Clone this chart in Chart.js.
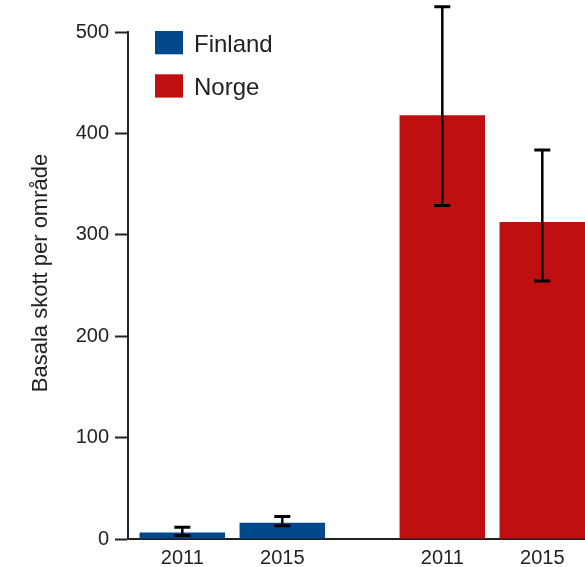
<!DOCTYPE html>
<html>
<head>
<meta charset="utf-8">
<script src="https://cdn.jsdelivr.net/npm/chart.js@4/dist/chart.umd.min.js"></script>
<style>
  html, body { margin: 0; padding: 0; background: #ffffff; }
  #wrap { width: 585px; height: 567px; position: relative; }
</style>
</head>
<body>
<div id="wrap"><canvas id="chart"></canvas></div>
<script>
// Basal shoots per survey area, Finland vs Norway, 2011 and 2015
const years = ['2011', '2015'];
const countries = ['Finland', 'Norge'];
const countryColors = ['#00488a', '#c00f10'];

const finlandValues = [6.5, 16];
const finlandLow = [3.5, 13];
const finlandHigh = [11.5, 22.3];

const norgeValues = [418, 312.6];
const norgeLow = [329, 254.5];
const norgeHigh = [525, 383.6];

const yTicks = [0, 100, 200, 300, 400, 500];

const textColor = '#222222';
const fontFamily = '"Liberation Sans", Arial, Helvetica, sans-serif';

// bars of one country sit next to each other, countries are separated by a wider gap
const groupStep = years.length + 0.6;
const xPos = (g, j) => 1 + g * groupStep + j;

const seriesValues = [finlandValues, norgeValues];
const seriesLow = [finlandLow, norgeLow];
const seriesHigh = [finlandHigh, norgeHigh];

const datasets = countries.map((name, g) => ({
  label: name,
  data: years.map((yr, j) => ({ x: xPos(g, j), y: seriesValues[g][j] })),
  low: seriesLow[g],
  high: seriesHigh[g],
  backgroundColor: countryColors[g],
  borderWidth: 0,
  grouped: false,
  categoryPercentage: 1,
  barPercentage: 0.855
}));

const tickPositions = [];
countries.forEach((c, g) => years.forEach((y, j) => tickPositions.push(xPos(g, j))));

// whiskers for the low/high interval of each bar
const errorBars = {
  id: 'errorBars',
  afterDatasetsDraw(chart) {
    const { ctx, scales: { x, y } } = chart;
    ctx.save();
    ctx.strokeStyle = '#000000';
    chart.data.datasets.forEach(ds => {
      ds.data.forEach((pt, i) => {
        const px = x.getPixelForValue(pt.x);
        const yl = y.getPixelForValue(ds.low[i]);
        const yh = y.getPixelForValue(ds.high[i]);
        const cap = 8;
        ctx.lineWidth = 2.5;
        ctx.beginPath();
        ctx.moveTo(px, yl);
        ctx.lineTo(px, yh);
        ctx.stroke();
        ctx.lineWidth = 3;
        ctx.beginPath();
        ctx.moveTo(px - cap, yl);
        ctx.lineTo(px + cap, yl);
        ctx.moveTo(px - cap, yh);
        ctx.lineTo(px + cap, yh);
        ctx.stroke();
      });
    });
    ctx.restore();
  }
};

// legend boxes inside the plot, stacked vertically
const insideLegend = {
  id: 'insideLegend',
  afterDraw(chart) {
    const { ctx, chartArea } = chart;
    const x0 = chartArea.left + 27;
    const y0 = chartArea.top - 1;
    const step = 43.3;
    ctx.save();
    ctx.font = '24px ' + fontFamily;
    ctx.textBaseline = 'middle';
    ctx.textAlign = 'left';
    chart.data.datasets.forEach((ds, i) => {
      const top = y0 + i * step;
      ctx.fillStyle = ds.backgroundColor;
      ctx.fillRect(x0, top, 28, 23.3);
      ctx.fillStyle = textColor;
      ctx.fillText(ds.label, x0 + 39, top + 14);
    });
    ctx.restore();
  }
};

// rotated y-axis title
const yTitle = {
  id: 'yTitle',
  afterDraw(chart) {
    const { ctx } = chart;
    ctx.save();
    ctx.translate(41, 273);
    ctx.rotate(-Math.PI / 2);
    ctx.font = '22px ' + fontFamily;
    ctx.fillStyle = textColor;
    ctx.textAlign = 'center';
    ctx.textBaseline = 'middle';
    ctx.fillText('Basala skott per område', 0, 0);
    ctx.restore();
  }
};

new Chart(document.getElementById('chart'), {
  type: 'bar',
  data: { datasets },
  options: {
    responsive: true,
    maintainAspectRatio: false,
    animation: false,
    layout: { padding: { top: 32, left: 0, right: 0, bottom: 0 } },
    plugins: {
      legend: { display: false },
      tooltip: { enabled: false }
    },
    scales: {
      x: {
        type: 'linear',
        offset: false,
        min: 0.457,
        max: 5.027,
        afterBuildTicks: scale => { scale.ticks = tickPositions.map(v => ({ value: v })); },
        afterFit: scale => { scale.height = 28; },
        grid: { display: false, offset: false },
        border: { display: true, color: textColor, width: 2 },
        ticks: {
          autoSkip: false,
          maxRotation: 0,
          padding: -1,
          color: textColor,
          font: { family: fontFamily, size: 20 },
          callback: (value, index) => years[index % years.length]
        }
      },
      y: {
        min: 0,
        max: 500,
        afterBuildTicks: scale => { scale.ticks = yTicks.map(v => ({ value: v })); },
        afterFit: scale => { scale.width = 128; },
        grid: {
          display: true,
          drawOnChartArea: false,
          drawTicks: true,
          tickLength: 13,
          tickColor: textColor,
          tickWidth: 2,
          color: textColor
        },
        border: { display: true, color: textColor, width: 2 },
        ticks: {
          padding: 6,
          color: textColor,
          font: { family: fontFamily, size: 20 }
        }
      }
    }
  },
  plugins: [errorBars, insideLegend, yTitle]
});
</script>
</body>
</html>
